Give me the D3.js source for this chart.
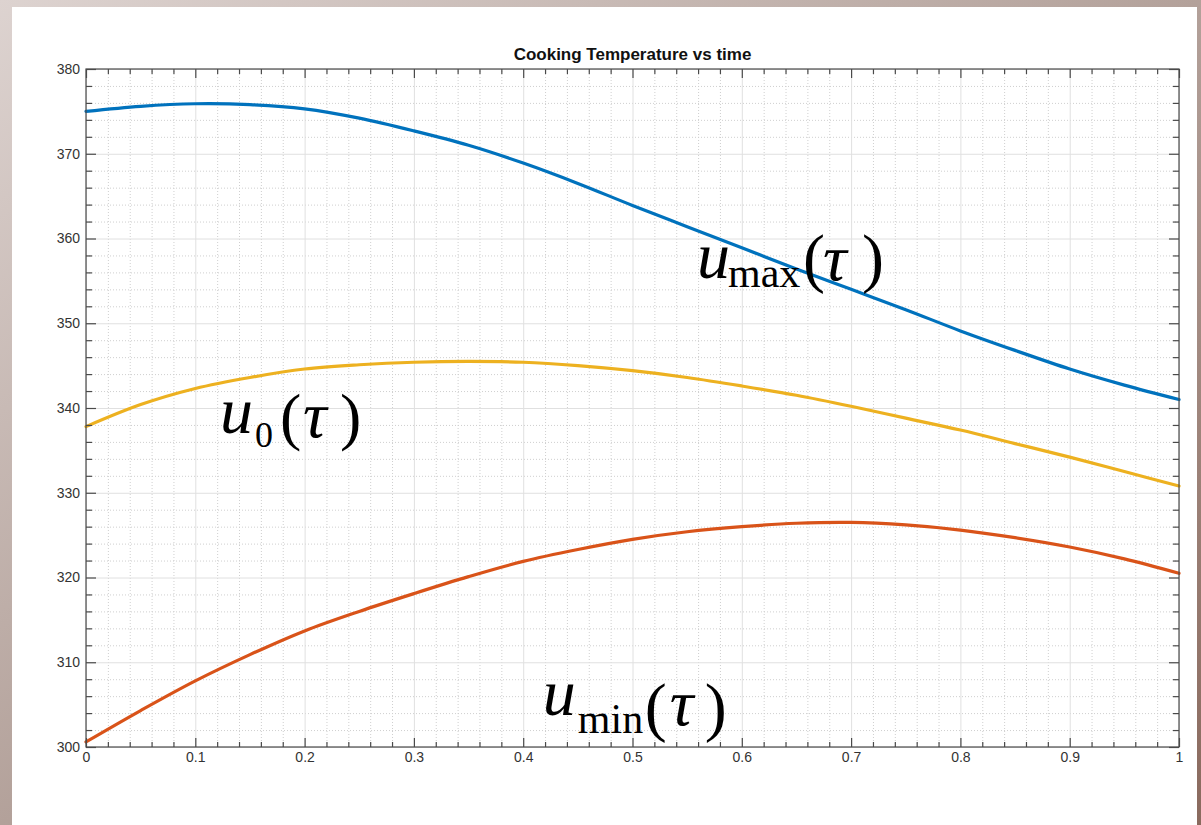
<!DOCTYPE html>
<html><head><meta charset="utf-8">
<script src="https://cdn.jsdelivr.net/npm/d3@7"></script>
<style>html,body{margin:0;padding:0;overflow:hidden;background:#fff}</style>
</head><body><svg id="c" width="1201" height="825"></svg>
<script>
// ---- data ----
const tau  = [0,0.05,0.1,0.15,0.2,0.25,0.3,0.35,0.4,0.45,0.5,0.55,0.6,0.65,0.7,0.75,0.8,0.85,0.9,0.95,1];
const uMax = [375.0,375.6,375.9,375.8,375.3,374.2,372.7,371.0,368.9,366.5,363.9,361.4,358.9,356.4,354.0,351.6,349.1,346.8,344.6,342.7,341.0];
const u0   = [337.8,340.4,342.3,343.6,344.6,345.1,345.4,345.5,345.4,345.0,344.4,343.6,342.6,341.5,340.2,338.8,337.4,335.8,334.2,332.5,330.8];
const uMin = [300.6,304.3,307.8,310.9,313.7,316.0,318.1,320.1,321.9,323.3,324.5,325.4,326.0,326.4,326.5,326.2,325.6,324.7,323.6,322.2,320.5];
const xTicks = [0,0.1,0.2,0.3,0.4,0.5,0.6,0.7,0.8,0.9,1];
const xTickLabels = ["0","0.1","0.2","0.3","0.4","0.5","0.6","0.7","0.8","0.9","1"];
const yTicks = [300,310,320,330,340,350,360,370,380];
const yTickLabels = ["300","310","320","330","340","350","360","370","380"];
const titleText = "Cooking Temperature vs time";
const seriesColors = ["#0072BD","#EDB120","#D95319"];

// annotation labels (anchor in data coords; part offsets in px)
const labelMax = {t:0.559, v:355.34, parts:[
  {s:"u",it:true,fs:66,dx:0,dy:0},{s:"max",it:false,fs:42,dx:31,dy:9},
  {s:"(",it:false,fs:66,dx:106,dy:2},{s:"\u03C4",it:true,fs:66,dx:126,dy:2},{s:")",it:false,fs:66,dx:165,dy:2}]};
const label0 = {t:0.1226, v:337.05, parts:[
  {s:"u",it:true,fs:66,dx:0,dy:0},{s:"0",it:false,fs:36,dx:35,dy:14},
  {s:"(",it:false,fs:64,dx:60,dy:5},{s:"\u03C4",it:true,fs:66,dx:83,dy:4},{s:")",it:false,fs:64,dx:120,dy:5}]};
const labelMin = {t:0.418, v:303.78, parts:[
  {s:"u",it:true,fs:66,dx:0,dy:0},{s:"min",it:false,fs:42,dx:35,dy:18},
  {s:"(",it:false,fs:66,dx:102,dy:14},{s:"\u03C4",it:true,fs:66,dx:127,dy:10},{s:")",it:false,fs:66,dx:162,dy:14}]};

// ---- drawing ----
const svg = d3.select("#c");
const W = 1201, H = 825;
const defs = svg.append("defs");
const lg = defs.append("linearGradient").attr("id","bg").attr("x1","0").attr("y1","0").attr("x2","1").attr("y2","1");
lg.append("stop").attr("offset","0").attr("stop-color","#ddd3d0");
lg.append("stop").attr("offset","0.5").attr("stop-color","#b3a19a");
lg.append("stop").attr("offset","1").attr("stop-color","#8a6a5e");
svg.append("rect").attr("width",W).attr("height",H).attr("fill","url(#bg)");
svg.append("rect").attr("x",12).attr("y",7).attr("width",1185).attr("height",H-7).attr("fill","#fff");

const m = {l:86, t:69, r:1179, b:747};
const x = d3.scaleLinear().domain([0,1]).range([m.l,m.r]);
const y = d3.scaleLinear().domain([300,380]).range([m.b,m.t]);
const pw = m.r-m.l, ph = m.b-m.t;

const minorX = d3.range(0,1.0001,0.02).filter(v=>Math.abs(v*10-Math.round(v*10))>1e-6);
const minorY = d3.range(300,380.001,2).filter(v=>v%10!==0);

const g = svg.append("g");
// minor grid
g.append("g").attr("transform",`translate(0,${m.b})`)
  .call(d3.axisBottom(x).tickValues(minorX).tickSize(-ph).tickFormat(""))
  .call(a=>{a.select(".domain").remove();a.selectAll("line").attr("stroke","#cfcfcf").attr("stroke-dasharray","1,2");});
g.append("g").attr("transform",`translate(${m.l},0)`)
  .call(d3.axisLeft(y).tickValues(minorY).tickSize(-pw).tickFormat(""))
  .call(a=>{a.select(".domain").remove();a.selectAll("line").attr("stroke","#cfcfcf").attr("stroke-dasharray","1,2");});
// major grid
g.append("g").attr("transform",`translate(0,${m.b})`)
  .call(d3.axisBottom(x).tickValues(xTicks).tickSize(-ph).tickFormat(""))
  .call(a=>{a.select(".domain").remove();a.selectAll("line").attr("stroke","#e0e0e0");});
g.append("g").attr("transform",`translate(${m.l},0)`)
  .call(d3.axisLeft(y).tickValues(yTicks).tickSize(-pw).tickFormat(""))
  .call(a=>{a.select(".domain").remove();a.selectAll("line").attr("stroke","#e0e0e0");});

// lines
const line = d3.line().x((d,i)=>x(tau[i])).y(d=>y(d)).curve(d3.curveCatmullRom.alpha(0.5));
[uMax,u0,uMin].forEach((s,i)=>{
  svg.append("path").datum(s).attr("d",line).attr("fill","none")
    .attr("stroke",seriesColors[i]).attr("stroke-width",3.2).attr("stroke-linecap","round");
});

// box + ticks
const axc = "#4a4a4a";
svg.append("rect").attr("x",m.l).attr("y",m.t).attr("width",pw).attr("height",ph)
  .attr("fill","none").attr("stroke",axc).attr("stroke-width",1.2);
function styleTicks(a){a.select(".domain").remove();a.selectAll("line").attr("stroke",axc).attr("stroke-width",1.2);}
const fmtX = (d,i)=>xTickLabels[i], fmtY=(d,i)=>yTickLabels[i];
const bx = svg.append("g").attr("transform",`translate(0,${m.b})`)
  .call(d3.axisBottom(x).tickValues(xTicks).tickSize(-9).tickPadding(5).tickFormat(fmtX)).call(styleTicks);
const ly = svg.append("g").attr("transform",`translate(${m.l},0)`)
  .call(d3.axisLeft(y).tickValues(yTicks).tickSize(-10).tickPadding(6).tickFormat(fmtY)).call(styleTicks);
svg.append("g").attr("transform",`translate(0,${m.t})`)
  .call(d3.axisTop(x).tickValues(xTicks).tickSize(-9).tickFormat("")).call(styleTicks);
svg.append("g").attr("transform",`translate(${m.r},0)`)
  .call(d3.axisRight(y).tickValues(yTicks).tickSize(-10).tickFormat("")).call(styleTicks);
// minor ticks
svg.append("g").attr("transform",`translate(0,${m.b})`).call(d3.axisBottom(x).tickValues(minorX).tickSize(-5).tickFormat("")).call(styleTicks);
svg.append("g").attr("transform",`translate(0,${m.t})`).call(d3.axisTop(x).tickValues(minorX).tickSize(-5).tickFormat("")).call(styleTicks);
svg.append("g").attr("transform",`translate(${m.l},0)`).call(d3.axisLeft(y).tickValues(minorY).tickSize(-6).tickFormat("")).call(styleTicks);
svg.append("g").attr("transform",`translate(${m.r},0)`).call(d3.axisRight(y).tickValues(minorY).tickSize(-6).tickFormat("")).call(styleTicks);

[bx,ly].forEach(a=>a.selectAll("text").attr("font-family","'Liberation Sans', Arial, sans-serif").attr("font-size",14).attr("fill","#333"));

// title
svg.append("text").attr("x",(m.l+m.r)/2).attr("y",60).attr("text-anchor","middle")
  .attr("font-family","'Liberation Sans', Arial, sans-serif").attr("font-weight","bold").attr("font-size",17)
  .attr("fill","#111").text(titleText);

// annotations
[labelMax,label0,labelMin].forEach(L=>{
  const ax = x(L.t), ay = y(L.v);
  const t = svg.append("text").attr("font-family","'Liberation Serif','Times New Roman',serif").attr("fill","#000");
  L.parts.forEach(p=>{
    t.append("tspan").attr("x",ax+p.dx).attr("y",ay+p.dy).attr("font-size",p.fs)
     .attr("font-style",p.it?"italic":"normal").text(p.s);
  });
});
</script></body></html>
